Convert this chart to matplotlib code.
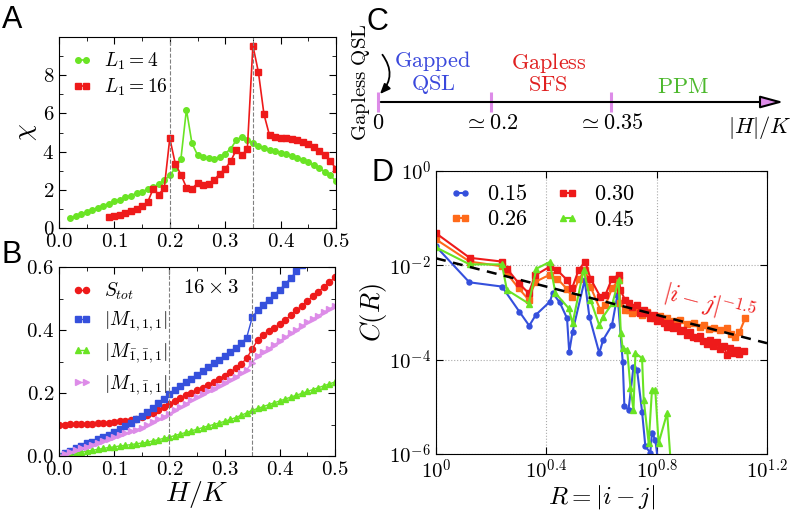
import numpy as np
import matplotlib
matplotlib.use("Agg")
import matplotlib.pyplot as plt
from matplotlib.ticker import MultipleLocator, FixedLocator, NullLocator, FuncFormatter

plt.rcParams["font.family"] = "serif"
plt.rcParams["font.serif"] = ["cmr10", "DejaVu Serif"]
plt.rcParams["mathtext.fontset"] = "cm"
plt.rcParams["axes.formatter.use_mathtext"] = True

# colours
c_green = "#6ae424"
c_red = "#ee1a1a"
c_blue = "#3550dc"
c_violet = "#dd8ce8"
c_orange = "#ff6a1a"

# ---------------- panel A : susceptibility ----------------
h_L4 = np.linspace(0.02, 0.50, 49)
chi_L4 = [0.52, 0.62, 0.73, 0.84, 0.95, 1.06, 1.17, 1.28, 1.39, 1.49,
          1.60, 1.70, 1.81, 1.91, 2.02, 2.13, 2.30, 2.50, 2.75, 3.15,
          3.60, 6.20, 4.43, 3.83, 3.70, 3.65, 3.62, 3.72, 3.90, 4.15,
          4.60, 4.78, 4.60, 4.43, 4.28, 4.18, 4.10, 4.02, 3.95, 3.87,
          3.78, 3.68, 3.57, 3.43, 3.28, 3.12, 2.95, 2.75, 2.45]
h_L16 = np.linspace(0.09, 0.50, 42)
chi_L16 = [0.56, 0.62, 0.70, 0.80, 0.90, 1.02, 1.15, 1.35, 2.05, 1.75,
           2.10, 4.70, 3.35, 2.80, 2.12, 2.05, 2.35, 2.25, 2.28, 2.50,
           2.85, 3.10, 3.50, 4.10, 3.80, 4.15, 9.55, 8.15, 5.95, 4.85,
           4.75, 4.72, 4.70, 4.67, 4.60, 4.50, 4.38, 4.22, 4.02, 3.80,
           3.50, 3.10]
transitions = [0.2, 0.35]

# ---------------- panel B : order parameters (16 x 3) ----------------
h_B = np.linspace(0.0, 0.5, 51)
S_tot = [0.100, 0.100, 0.101, 0.101, 0.102, 0.102, 0.103, 0.104, 0.105, 0.106,
         0.108, 0.110, 0.112, 0.115, 0.119, 0.124, 0.130, 0.138, 0.146, 0.155,
         0.165, 0.175, 0.184, 0.193, 0.201, 0.209, 0.217, 0.226, 0.235, 0.245,
         0.255, 0.266, 0.278, 0.292, 0.310, 0.340, 0.368, 0.385, 0.397, 0.407,
         0.418, 0.432, 0.447, 0.462, 0.477, 0.492, 0.507, 0.522, 0.537, 0.552,
         0.568]
M_111 = [0.000, 0.008, 0.016, 0.024, 0.032, 0.040, 0.046, 0.053, 0.060, 0.068,
         0.077, 0.086, 0.096, 0.106, 0.117, 0.128, 0.140, 0.153, 0.167, 0.182,
         0.197, 0.210, 0.222, 0.234, 0.246, 0.258, 0.270, 0.282, 0.294, 0.306,
         0.318, 0.331, 0.344, 0.358, 0.376, 0.440, 0.463, 0.480, 0.496, 0.512,
         0.528, 0.546, 0.566, 0.586, 0.606, 0.626, 0.646, 0.666, 0.686, 0.706,
         0.726]
M_bb1 = [0.000, 0.003, 0.006, 0.009, 0.012, 0.015, 0.018, 0.021, 0.024, 0.027,
         0.029, 0.032, 0.034, 0.036, 0.039, 0.041, 0.044, 0.048, 0.052, 0.056,
         0.060, 0.065, 0.070, 0.075, 0.080, 0.085, 0.090, 0.095, 0.100, 0.105,
         0.110, 0.116, 0.122, 0.129, 0.137, 0.145, 0.151, 0.157, 0.163, 0.169,
         0.175, 0.181, 0.187, 0.193, 0.199, 0.205, 0.211, 0.217, 0.223, 0.229,
         0.235]
M_1b1 = [0.000, 0.006, 0.012, 0.018, 0.024, 0.030, 0.036, 0.042, 0.048, 0.054,
         0.060, 0.066, 0.072, 0.078, 0.084, 0.090, 0.097, 0.108, 0.116, 0.125,
         0.134, 0.145, 0.156, 0.166, 0.177, 0.187, 0.196, 0.205, 0.214, 0.223,
         0.232, 0.242, 0.252, 0.262, 0.274, 0.296, 0.318, 0.330, 0.341, 0.353,
         0.365, 0.377, 0.389, 0.400, 0.412, 0.424, 0.435, 0.446, 0.457, 0.467,
         0.477]

# ---------------- panel C : phase diagram (schematic) ----------------
edge_pos = [0.084, 0.333, 0.598]
edge_labels = [r"$0$", r"$\simeq 0.2$", r"$\simeq 0.35$"]
phase_names = ["$\\mathrm{Gapped}$\n$\\mathrm{QSL}$", "$\\mathrm{Gapless}$\n$\\mathrm{SFS}$",
               r"$\mathrm{PPM}$"]
phase_pos = [0.205, 0.460, 0.758]
phase_colors = ["#3a48dc", "#e02020", "#4cb82c"]

# ---------------- panel D : correlations, log10 values ----------------
lR_015 = [0.000, 0.121, 0.239, 0.302, 0.338, 0.362, 0.413, 0.423, 0.448, 0.475,
          0.483, 0.495, 0.539, 0.556, 0.592, 0.606, 0.638, 0.658, 0.677, 0.683,
          0.698, 0.716, 0.729, 0.747, 0.759, 0.777, 0.783, 0.795, 0.806]
lC_015 = [-1.60, -2.36, -2.45, -2.98, -3.28, -3.05, -2.77, -2.59, -2.78, -3.12,
          -3.84, -3.41, -2.31, -3.09, -3.86, -3.58, -3.27, -2.62, -4.05, -4.99,
          -5.06, -4.15, -4.22, -5.10, -5.84, -5.97, -5.55, -5.70, -6.20]
lR_045 = [0.000, 0.122, 0.239, 0.257, 0.336, 0.364, 0.412, 0.433, 0.481, 0.495,
          0.535, 0.560, 0.592, 0.606, 0.640, 0.662, 0.670, 0.677, 0.693, 0.705,
          0.716, 0.723, 0.747, 0.753, 0.771, 0.783, 0.795, 0.807, 0.838, 0.850]
lC_045 = [-1.62, -1.98, -1.98, -2.52, -2.81, -2.07, -1.93, -2.59, -2.91, -3.23,
          -2.10, -2.73, -3.27, -3.09, -2.80, -2.31, -3.44, -3.76, -3.79, -4.60,
          -5.06, -3.86, -3.97, -4.85, -5.77, -4.64, -4.64, -5.77, -5.13, -6.10]
lR_030 = [0.000, 0.122, 0.239, 0.257, 0.300, 0.336, 0.360, 0.412, 0.439, 0.475,
          0.493, 0.517, 0.541, 0.560, 0.596, 0.614, 0.638, 0.662, 0.668, 0.686,
          0.698, 0.711, 0.729, 0.741, 0.753, 0.765, 0.777, 0.789, 0.801, 0.813,
          0.825, 0.837, 0.849, 0.861, 0.873, 0.885, 0.897, 0.909, 0.921, 0.933,
          0.945, 0.957, 0.969, 0.981, 0.993, 1.005, 1.017, 1.031, 1.043, 1.055,
          1.067, 1.079, 1.091, 1.097, 1.115]
lC_030 = [-1.32, -1.84, -1.92, -2.07, -2.38, -2.59, -2.21, -2.03, -2.10, -2.31,
          -2.49, -2.10, -1.92, -2.28, -2.67, -2.63, -2.28, -2.21, -2.52, -2.74,
          -2.80, -2.88, -2.84, -3.01, -2.95, -3.02, -3.12, -3.05, -3.19, -3.15,
          -3.22, -3.30, -3.22, -3.32, -3.28, -3.40, -3.37, -3.47, -3.42, -3.51,
          -3.55, -3.50, -3.60, -3.66, -3.58, -3.70, -3.63, -3.78, -3.72, -3.90,
          -3.75, -3.85, -3.80, -3.88, -3.81]
lR_026 = [0.000, 0.122, 0.239, 0.257, 0.300, 0.336, 0.360, 0.412, 0.439, 0.475,
          0.493, 0.517, 0.541, 0.560, 0.596, 0.614, 0.638, 0.662, 0.668, 0.686,
          0.698, 0.711, 0.729, 0.747, 0.765, 0.789, 0.813, 0.838, 0.862, 0.886,
          0.910, 0.934, 0.958, 0.970, 0.990, 1.007, 1.031, 1.055, 1.070, 1.085,
          1.100, 1.121]
lC_026 = [-1.45, -1.92, -2.02, -2.17, -2.49, -2.73, -2.35, -2.20, -2.28, -2.50,
          -2.67, -2.30, -2.10, -2.45, -2.95, -2.85, -2.49, -2.31, -2.80, -2.95,
          -2.95, -3.02, -2.98, -3.05, -3.00, -3.12, -3.08, -3.12, -3.18, -3.16,
          -3.25, -3.23, -3.30, -3.26, -3.35, -3.33, -3.38, -3.33, -3.45, -3.51,
          -3.42, -3.12]
fit_amp = 0.0141
fit_exp = -1.5

W, H = 793, 514
fig = plt.figure(figsize=(W / 100, H / 100), dpi=100)


def box(l, t, r, b):
    return [l / W, 1 - b / H, (r - l) / W, (b - t) / H]


def style(ax):
    ax.tick_params(which="both", direction="in", top=True, right=True, labelsize=15)
    ax.tick_params(which="major", length=5)
    ax.tick_params(which="minor", length=3)


fmt1 = FuncFormatter(lambda v, p: "$%.1f$" % v)
fmt0 = FuncFormatter(lambda v, p: "$%d$" % round(v))

# A
axA = fig.add_axes(box(59, 37, 336, 228))
axA.plot(h_L4, chi_L4, "-o", color=c_green, ms=4.0, lw=1.2, label=r"$L_1=4$")
axA.plot(h_L16, chi_L16, "-s", color=c_red, ms=4.4, lw=1.2, label=r"$L_1=16$")
for t in transitions:
    axA.axvline(t, color="gray", ls="--", lw=0.8)
axA.set_xlim(0, 0.5)
axA.set_ylim(0, 10)
axA.xaxis.set_major_locator(MultipleLocator(0.1))
axA.xaxis.set_minor_locator(MultipleLocator(0.05))
axA.xaxis.set_major_formatter(fmt1)
axA.yaxis.set_major_locator(FixedLocator([0, 2, 4, 6, 8]))
axA.yaxis.set_minor_locator(MultipleLocator(1))
axA.yaxis.set_major_formatter(fmt0)
style(axA)
axA.set_ylabel(r"$\chi$", fontsize=19, labelpad=2)
axA.legend(loc="upper left", frameon=False, fontsize=14, numpoints=2,
           handlelength=1.0, handletextpad=0.6, borderaxespad=0.3, labelspacing=0.25)

# B
axB = fig.add_axes(box(59, 267, 335, 456))
axB.plot(h_B, S_tot, "-o", color=c_red, ms=4.4, lw=1, label=r"$S_{tot}$")
axB.plot(h_B, M_111, "-s", color=c_blue, ms=4.4, lw=1, label=r"$|M_{1,1,1}|$")
axB.plot(h_B, M_bb1, "-^", color=c_green, ms=4.4, lw=1, label=r"$|M_{\bar{1},\bar{1},1}|$")
axB.plot(h_B, M_1b1, "->", color=c_violet, ms=4.4, lw=1, label=r"$|M_{1,\bar{1},1}|$")
for t in transitions:
    axB.axvline(t, color="gray", ls="--", lw=0.8)
axB.set_xlim(0, 0.5)
axB.set_ylim(0, 0.6)
axB.xaxis.set_major_locator(MultipleLocator(0.1))
axB.xaxis.set_minor_locator(MultipleLocator(0.05))
axB.xaxis.set_major_formatter(fmt1)
axB.yaxis.set_major_locator(MultipleLocator(0.2))
axB.yaxis.set_minor_locator(MultipleLocator(0.1))
axB.yaxis.set_major_formatter(fmt1)
style(axB)
axB.set_xlabel(r"$H/K$", fontsize=20, labelpad=0)
axB.text(0.276, 0.532, r"$16\times3$", fontsize=15, ha="center", va="center")
axB.legend(loc="upper left", frameon=False, fontsize=14, numpoints=2,
           handlelength=1.0, handletextpad=0.6, borderaxespad=0.3, labelspacing=0.4)

# C
axC = fig.add_axes(box(340, 0, 793, 150))
axC.set_xlim(0, 1)
axC.set_ylim(0, 1)
axC.axis("off")
axC.annotate("", xy=(0.985, 0.32), xytext=(edge_pos[0], 0.32),
             arrowprops=dict(arrowstyle="-|>,head_length=1.4,head_width=0.38",
                             fc=c_violet, ec="black", lw=1.5))
for p, lab in zip(edge_pos, edge_labels):
    axC.plot([p, p], [0.255, 0.39], color=c_violet, lw=2.2, solid_capstyle="butt")
    axC.text(p, 0.18, lab, fontsize=16, ha="center", va="center")
axC.text(0.926, 0.15, r"$|H|/K$", fontsize=16, ha="center", va="center")
for name, p, c in zip(phase_names, phase_pos, phase_colors):
    axC.text(p, 0.42 if "PPM" in name else 0.515, name, color=c, fontsize=16,
             ha="center", va="center", linespacing=1.0)
axC.text(0.047, 0.45, r"$\mathrm{Gapless\ QSL}$", rotation=90, fontsize=15,
         ha="center", va="center")
axC.annotate("", xy=(edge_pos[0], 0.36), xytext=(0.090, 0.65),
             arrowprops=dict(arrowstyle="-|>,head_length=0.6,head_width=0.25",
                             color="black", lw=1.3,
                             connectionstyle="arc3,rad=-0.45"))

# D
axD = fig.add_axes(box(436, 171, 767, 454))
axD.plot(10 ** np.array(lR_015), 10 ** np.array(lC_015), "-o", color=c_blue,
         ms=3.6, lw=1.5, label="$0.15$")
axD.plot(10 ** np.array(lR_026), 10 ** np.array(lC_026), "-s", color=c_orange,
         ms=4.4, lw=1.5, label="$0.26$")
axD.plot(10 ** np.array(lR_030), 10 ** np.array(lC_030), "-s", color=c_red,
         ms=4.4, lw=1.5, label="$0.30$")
axD.plot(10 ** np.array(lR_045), 10 ** np.array(lC_045), "-^", color=c_green,
         ms=4.2, lw=1.5, label="$0.45$")
r_fit = np.logspace(0, 1.2, 50)
axD.plot(r_fit, fit_amp * r_fit ** fit_exp, "--", color="black", lw=1.8, dashes=(4, 3))
axD.set_xscale("log")
axD.set_yscale("log")
axD.set_xlim(1, 10 ** 1.2)
axD.set_ylim(1e-6, 1)
axD.xaxis.set_major_locator(FixedLocator([1, 10 ** 0.4, 10 ** 0.8, 10 ** 1.2]))
axD.xaxis.set_minor_locator(NullLocator())
axD.set_xticklabels([r"$10^{0}$", r"$10^{0.4}$", r"$10^{0.8}$", r"$10^{1.2}$"])
axD.yaxis.set_major_locator(FixedLocator([1e-6, 1e-4, 1e-2, 1]))
axD.yaxis.set_minor_locator(NullLocator())
axD.set_yticklabels([r"$10^{-6}$", r"$10^{-4}$", r"$10^{-2}$", r"$10^{0}$"])
axD.grid(True, ls=":", color="#aaaaaa", lw=0.8)
style(axD)
axD.set_xlabel(r"$R=|i-j|$", fontsize=18, labelpad=0)
axD.set_ylabel(r"$C(R)$", fontsize=19, labelpad=0)
axD.text(10 ** 0.99, 10 ** -2.8, r"$|i-j|^{-1.5}$", color=c_red, fontsize=17,
         rotation=-15, ha="center", va="center")
axD.legend(loc="upper left", ncol=2, frameon=False, fontsize=16, numpoints=2,
           handlelength=1.0, handletextpad=0.7, borderaxespad=0.2,
           labelspacing=0.25, columnspacing=1.3)

# panel letters
for letter, x, y in [("A", 2, 28), ("B", 2, 263), ("C", 367, 30), ("D", 371, 181)]:
    fig.text(x / W, 1 - y / H, letter, fontsize=22, family="Liberation Sans",
             ha="left", va="baseline")

fig.savefig("out.png", dpi=100)
